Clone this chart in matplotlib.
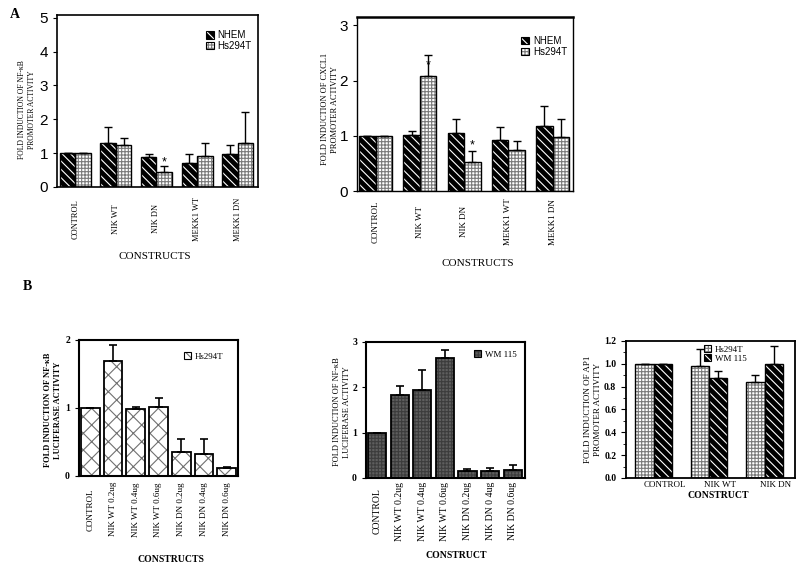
import matplotlib
matplotlib.use('Agg')
import matplotlib.pyplot as plt
from matplotlib.patches import Patch
from matplotlib.ticker import MultipleLocator
import numpy as np

plt.rcParams['hatch.linewidth'] = 0.8
SERIF = 'Liberation Serif'
SANS = 'Liberation Sans'

# ---------------- data ----------------
a_categories = ['CONTROL', 'NIK WT', 'NIK DN', 'MEKK1 WT', 'MEKK1 DN']
a1_nhem = [1.0, 1.30, 0.88, 0.70, 0.98]
a1_nhem_err = [0.0, 0.46, 0.10, 0.26, 0.27]
a1_hs = [1.0, 1.24, 0.44, 0.92, 1.30]
a1_hs_err = [0.0, 0.21, 0.17, 0.38, 0.90]

a2_nhem = [1.0, 1.02, 1.05, 0.93, 1.17]
a2_nhem_err = [0.0, 0.07, 0.26, 0.22, 0.37]
a2_hs = [1.0, 2.08, 0.52, 0.74, 0.97]
a2_hs_err = [0.0, 0.39, 0.21, 0.16, 0.33]

b_categories = ['CONTROL', 'NIK WT 0.2ug', 'NIK WT 0.4ug', 'NIK WT 0.6ug',
                'NIK DN 0.2ug', 'NIK DN 0.4ug', 'NIK DN 0.6ug']
b2_categories = ['CONTROL', 'NIK WT 0.2ug', 'NIK WT 0.4ug', 'NIK WT 0.6ug',
                 'NIK DN 0.2ug', 'NIK DN 0 4ug', 'NIK DN 0.6ug']
b1_hs = [1.0, 1.69, 0.99, 1.02, 0.36, 0.33, 0.12]
b1_hs_err = [0.0, 0.24, 0.02, 0.13, 0.18, 0.21, 0.01]
b2_wm = [1.0, 1.84, 1.95, 2.65, 0.16, 0.16, 0.18]
b2_wm_err = [0.0, 0.19, 0.43, 0.18, 0.04, 0.07, 0.11]

b3_categories = ['CONTROL', 'NIK WT', 'NIK DN']
b3_hs = [1.0, 0.98, 0.84]
b3_hs_err = [0.0, 0.15, 0.06]
b3_wm = [1.0, 0.88, 0.995]
b3_wm_err = [0.0, 0.06, 0.165]

# ---------------- styles ----------------
NHEM_ST = dict(face='black', hatch='\\\\\\\\', hcolor='white')
HS_ST = dict(face='white', hatch='+++++', hcolor='#7a7a7a')
B1_ST = dict(face='white', hatch='xx', hcolor='#707070')
WM_ST = dict(face='#5e5e5e', hatch='+++++', hcolor='#3c3c3c')


def pbar(ax, x, h, w, st, lw):
    ax.bar(x, h, w, color=st['face'], edgecolor=st['hcolor'], hatch=st['hatch'],
           linewidth=0, zorder=2)
    ax.bar(x, h, w, fill=False, edgecolor='black', linewidth=lw, zorder=3)


def ebar(ax, x, h, e, lw=1.0, cap=3):
    ax.errorbar(x, h, yerr=[np.zeros(len(h)), e], fmt='none', ecolor='black',
                elinewidth=lw, capsize=cap, capthick=lw, zorder=4)


def legend(ax, labels, styles, anchor, size, family):
    handles = [(Patch(facecolor=s['face'], edgecolor=s['hcolor'], hatch=s['hatch'], linewidth=0),
                Patch(fill=False, edgecolor='black', linewidth=0.8)) for s in styles]
    ax.legend(handles, labels, loc='upper left', bbox_to_anchor=anchor, frameon=False,
              handlelength=0.8, handleheight=0.8, handletextpad=0.4, labelspacing=0.05,
              borderaxespad=0, borderpad=0, prop={'family': family, 'size': size})


def spines(ax, lw):
    for s in ax.spines.values():
        s.set_linewidth(lw)


fig = plt.figure(figsize=(8, 5.67), dpi=100)

# ---------------- Panel A1 ----------------
ax = fig.add_axes([0.07125, 0.6702, 0.25125, 0.3034])
x = np.arange(len(a_categories))
w = 0.38
pbar(ax, x - w / 2, a1_nhem, w, NHEM_ST, 1.0)
pbar(ax, x + w / 2, a1_hs, w, HS_ST, 1.0)
ebar(ax, x - w / 2, a1_nhem, a1_nhem_err)
ebar(ax, x + w / 2, a1_hs, a1_hs_err)
ax.text(x[2] + w / 2, a1_hs[2] + a1_hs_err[2] + 0.12, '*', ha='center', va='center',
        fontsize=9, family=SANS)
ax.set_xlim(-0.45, 4.5)
ax.set_ylim(0, 5.08)
ax.set_yticks([0, 1, 2, 3, 4, 5])
ax.tick_params(axis='y', direction='out', length=3, labelsize=11)
for t in ax.get_yticklabels():
    t.set_family(SANS)
ax.set_xticks(x)
ax.set_xticklabels(a_categories, rotation=90, va='center', fontsize=6, family=SERIF)
ax.tick_params(axis='x', length=0, pad=23)
ax.set_ylabel('FOLD INDUCTION OF NF-\u03baB\nPROMOTER ACTIVITY', family=SERIF, fontsize=5.5,
              linespacing=1.3)
ax.yaxis.set_label_coords(-0.105, 0.45)
spines(ax, 1.2)
legend(ax, ['NHEM', 'Hs294T'], [NHEM_ST, HS_ST], (0.74, 0.91), 7, SANS)
fig.text(155 / 800, 1 - 257 / 567, 'CONSTRUCTS', ha='center', va='center', family=SERIF,
         fontsize=8)

# ---------------- Panel A2 ----------------
ax = fig.add_axes([0.44625, 0.6631, 0.27, 0.3069])
w = 0.375
pbar(ax, x - w / 2, a2_nhem, w, NHEM_ST, 1.0)
pbar(ax, x + w / 2, a2_hs, w, HS_ST, 1.0)
ebar(ax, x - w / 2, a2_nhem, a2_nhem_err)
ebar(ax, x + w / 2, a2_hs, a2_hs_err)
ax.text(x[1] + w / 2, a2_hs[1] + 0.2, '*', ha='center', va='center', fontsize=9, family=SANS)
ax.text(x[2] + w / 2, a2_hs[2] + a2_hs_err[2] + 0.1, '*', ha='center', va='center',
        fontsize=9, family=SANS)
ax.set_xlim(-0.42, 4.46)
ax.set_ylim(0, 3.15)
ax.set_yticks([0, 1, 2, 3])
ax.tick_params(axis='y', direction='out', length=3, labelsize=11)
for t in ax.get_yticklabels():
    t.set_family(SANS)
ax.set_xticks(x)
ax.set_xticklabels(a_categories, rotation=90, va='center', fontsize=6.5, family=SERIF)
ax.tick_params(axis='x', length=0, pad=22)
ax.set_ylabel('FOLD INDUCTION OF CXCL1\nPROMOTER ACTIVITY', family=SERIF, fontsize=6,
              linespacing=1.3)
ax.yaxis.set_label_coords(-0.083, 0.47)
spines(ax, 1.0)
ax.spines['top'].set_linewidth(1.8)
legend(ax, ['NHEM', 'Hs294T'], [NHEM_ST, HS_ST], (0.76, 0.89), 7, SANS)
fig.text(478 / 800, 1 - 263 / 567, 'CONSTRUCTS', ha='center', va='center', family=SERIF,
         fontsize=8)

# ---------------- Panel B1 ----------------
ax = fig.add_axes([0.09875, 0.1605, 0.19875, 0.2399])
xb = np.arange(len(b_categories))
pbar(ax, xb, b1_hs, 0.82, B1_ST, 1.3)
ebar(ax, xb, b1_hs, b1_hs_err, lw=1.2)
ax.set_xlim(-0.5, 6.5)
ax.set_ylim(0, 2)
ax.set_yticks([0, 1, 2])
ax.tick_params(axis='y', direction='out', length=3, labelsize=7)
for t in ax.get_yticklabels():
    t.set_family(SERIF)
    t.set_fontweight('bold')
ax.set_xticks(xb)
ax.set_xticklabels(b_categories, rotation=90, va='center', fontsize=6.5, family=SERIF)
ax.tick_params(axis='x', length=0, pad=24)
ax.set_ylabel('FOLD INDUCTION OF NF-\u03baB\nLUCIFERASE ACTIVITY', family=SERIF, fontsize=6,
              fontweight='bold', linespacing=1.3)
ax.yaxis.set_label_coords(-0.107, 0.485)
spines(ax, 1.5)
legend(ax, ['Hs294T'], [B1_ST], (0.66, 0.91), 6.5, SERIF)
fig.text(171 / 800, 1 - 560 / 567, 'CONSTRUCTS', ha='center', va='center', family=SERIF,
         fontsize=7, fontweight='bold')

# ---------------- Panel B2 ----------------
ax = fig.add_axes([0.4575, 0.1570, 0.19875, 0.2399])
pbar(ax, xb, b2_wm, 0.8, WM_ST, 1.3)
ebar(ax, xb, b2_wm, b2_wm_err, lw=1.2)
ax.set_xlim(-0.5, 6.55)
ax.set_ylim(0, 3)
ax.set_yticks([0, 1, 2, 3])
ax.tick_params(axis='y', direction='out', length=3, labelsize=7)
for t in ax.get_yticklabels():
    t.set_family(SERIF)
    t.set_fontweight('bold')
ax.set_xticks(xb)
ax.set_xticklabels(b2_categories, rotation=90, va='center', fontsize=7, family=SERIF)
ax.tick_params(axis='x', length=0, pad=24)
ax.set_ylabel('FOLD INDUCTION OF NF-\u03baB\nLUCIFERASE ACTIVITY', family=SERIF, fontsize=6,
              linespacing=1.3)
ax.yaxis.set_label_coords(-0.094, 0.485)
spines(ax, 1.5)
legend(ax, ['WM 115'], [WM_ST], (0.68, 0.94), 6.5, SERIF)
fig.text(456 / 800, 1 - 556 / 567, 'CONSTRUCT', ha='center', va='center', family=SERIF,
         fontsize=7, fontweight='bold')

# ---------------- Panel B3 ----------------
ax = fig.add_axes([0.7825, 0.1570, 0.21125, 0.2416])
x3 = np.arange(len(b3_categories))
w = 0.33
pbar(ax, x3 - w / 2, b3_hs, w, HS_ST, 1.0)
pbar(ax, x3 + w / 2, b3_wm, w, NHEM_ST, 1.0)
ebar(ax, x3 - w / 2, b3_hs, b3_hs_err)
ebar(ax, x3 + w / 2, b3_wm, b3_wm_err)
ax.set_xlim(-0.5, 2.55)
ax.set_ylim(0, 1.2)
ax.set_yticks(np.round(np.arange(0, 1.21, 0.2), 1))
ax.yaxis.set_minor_locator(MultipleLocator(0.1))
ax.tick_params(axis='y', which='major', direction='out', length=3.5, labelsize=7)
ax.tick_params(axis='y', which='minor', direction='out', length=2)
ax.set_yticklabels(['%.1f' % v for v in np.arange(0, 1.21, 0.2)])
for t in ax.get_yticklabels():
    t.set_family(SERIF)
    t.set_fontweight('bold')
ax.set_xticks(x3 + 0.2)
ax.set_xticklabels(b3_categories, fontsize=6.5, family=SERIF)
ax.tick_params(axis='x', length=0, pad=2)
ax.set_ylabel('FOLD INDUCTION OF AP1\nPROMOTER ACTIVITY', family=SERIF, fontsize=6.5,
              linespacing=1.3)
ax.yaxis.set_label_coords(-0.142, 0.5)
spines(ax, 1.3)
legend(ax, ['Hs294T', 'WM 115'], [HS_ST, NHEM_ST], (0.46, 0.97), 6.5, SERIF)
fig.text(718 / 800, 1 - 496 / 567, 'CONSTRUCT', ha='center', va='center', family=SERIF,
         fontsize=7, fontweight='bold')

# ---------------- panel letters ----------------
fig.text(15 / 800, 1 - 14 / 567, 'A', ha='center', va='center', family=SERIF, fontsize=10,
         fontweight='bold')
fig.text(27 / 800, 1 - 286 / 567, 'B', ha='center', va='center', family=SERIF, fontsize=10,
         fontweight='bold')

fig.savefig('out.png', dpi=100)
